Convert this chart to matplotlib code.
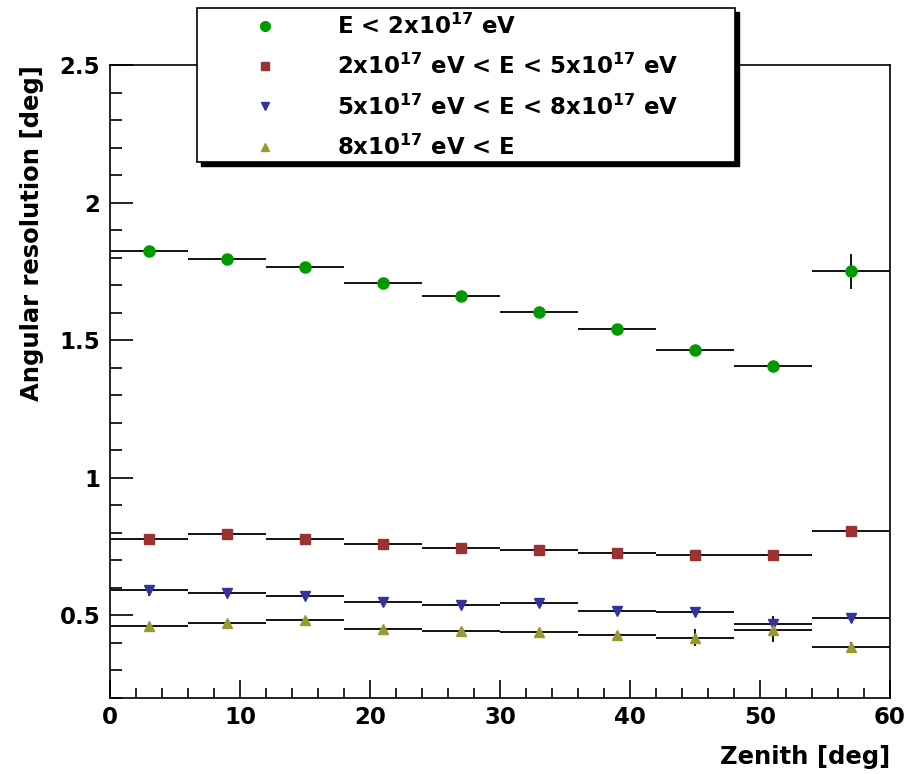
import matplotlib
matplotlib.use("Agg")
import matplotlib.pyplot as plt
from matplotlib.lines import Line2D
from matplotlib.patches import Rectangle
from matplotlib.ticker import MultipleLocator

plt.rcParams['font.family'] = ['DejaVu Sans']
plt.rcParams['font.weight'] = 'bold'
plt.rcParams['mathtext.fontset'] = 'custom'
plt.rcParams['mathtext.rm'] = 'DejaVu Sans:bold'
plt.rcParams['mathtext.bf'] = 'DejaVu Sans:bold'
plt.rcParams['mathtext.it'] = 'DejaVu Sans:bold'

# ---- data ----
zenith = [3, 9, 15, 21, 27, 33, 39, 45, 51, 57]
bin_half_width = [3] * 10

res_low = [1.825, 1.795, 1.766, 1.709, 1.662, 1.604, 1.541, 1.463, 1.405, 1.750]
err_low = [0.005, 0.005, 0.005, 0.005, 0.006, 0.006, 0.007, 0.008, 0.010, 0.065]

res_mid1 = [0.776, 0.797, 0.779, 0.758, 0.746, 0.737, 0.727, 0.720, 0.719, 0.808]
err_mid1 = [0.005, 0.005, 0.005, 0.005, 0.005, 0.005, 0.005, 0.006, 0.008, 0.012]

res_mid2 = [0.592, 0.581, 0.572, 0.548, 0.539, 0.546, 0.516, 0.514, 0.468, 0.490]
err_mid2 = [0.020, 0.010, 0.010, 0.008, 0.008, 0.008, 0.008, 0.010, 0.030, 0.012]

res_high = [0.461, 0.473, 0.482, 0.450, 0.444, 0.438, 0.428, 0.419, 0.447, 0.384]
err_high = [0.015, 0.010, 0.010, 0.008, 0.008, 0.008, 0.008, 0.030, 0.045, 0.020]

labels = [r'E < 2x10$^{17}$ eV',
          r'2x10$^{17}$ eV < E < 5x10$^{17}$ eV',
          r'5x10$^{17}$ eV < E < 8x10$^{17}$ eV',
          r'8x10$^{17}$ eV < E']
colors = ['#009900', '#993333', '#333399', '#999933']
markers = ['o', 's', 'v', '^']
msizes = [8, 7, 7, 7]

series = [(res_low, err_low), (res_mid1, err_mid1), (res_mid2, err_mid2), (res_high, err_high)]

W, H = 922, 774
fig = plt.figure(figsize=(W / 100, H / 100), dpi=100)
ax = fig.add_axes([110 / W, 1 - 698 / H, 780 / W, 633 / H])

for (vals, errs), c, m, ms in zip(series, colors, markers, msizes):
    ax.errorbar(zenith, vals, xerr=bin_half_width, yerr=errs, fmt=m, color=c,
                ms=ms, mec=c, ecolor='black', elinewidth=1.3, capsize=0, zorder=3)

ax.set_xlim(0, 60)
ax.set_ylim(0.2, 2.5)
ax.xaxis.set_major_locator(MultipleLocator(10))
ax.xaxis.set_minor_locator(MultipleLocator(2))
ax.yaxis.set_minor_locator(MultipleLocator(0.1))
ax.set_yticks([0.5, 1, 1.5, 2, 2.5])
ax.set_yticklabels(['0.5', '1', '1.5', '2', '2.5'])
ax.tick_params(axis='both', which='both', direction='in', top=False, right=False,
               labelsize=16.5, width=1.2)
ax.tick_params(axis='y', which='major', length=16.5, pad=7)
ax.tick_params(axis='y', which='minor', length=8.6)
ax.tick_params(axis='x', which='major', length=13, pad=6)
ax.tick_params(axis='x', which='minor', length=7)
for lab in ax.get_xticklabels() + ax.get_yticklabels():
    lab.set_fontweight('bold')
for s in ax.spines.values():
    s.set_linewidth(1.2)

ax.set_xlabel('Zenith [deg]', fontsize=17.5, fontweight='bold', loc='right')
ax.xaxis.set_label_coords(1.0, -0.074)
ax.set_ylabel('Angular resolution [deg]', fontsize=17.5, fontweight='bold', loc='top')
ax.yaxis.set_label_coords(-0.085, 1.0)

# legend frame with drop shadow (ROOT style)
lx0, lx1 = 197 / W, 735 / W
ly0, ly1 = 1 - 162 / H, 1 - 8 / H
fig.add_artist(Rectangle((lx0 + 4 / W, ly0 - 4 / H), lx1 - lx0, ly1 - ly0,
                         transform=fig.transFigure, facecolor='black',
                         edgecolor='black', zorder=9))
fig.add_artist(Rectangle((lx0, ly0), lx1 - lx0, ly1 - ly0,
                         transform=fig.transFigure, facecolor='white',
                         edgecolor='black', linewidth=1.2, zorder=9.5))

handles = [Line2D([], [], marker=m, ls='none', color=c, ms=ms - 1)
           for c, m, ms in zip(colors, markers, msizes)]
leg = fig.legend(handles, labels, loc='upper left',
                 bbox_to_anchor=(lx0, ly1 - 1 / H), frameon=False,
                 fontsize=16.5, borderpad=0.2, handlelength=5.5,
                 handletextpad=0.4, labelspacing=0.66, borderaxespad=0)
leg.set_zorder(10)
for t in leg.get_texts():
    t.set_fontweight('bold')

fig.savefig('out.png', dpi=100)
